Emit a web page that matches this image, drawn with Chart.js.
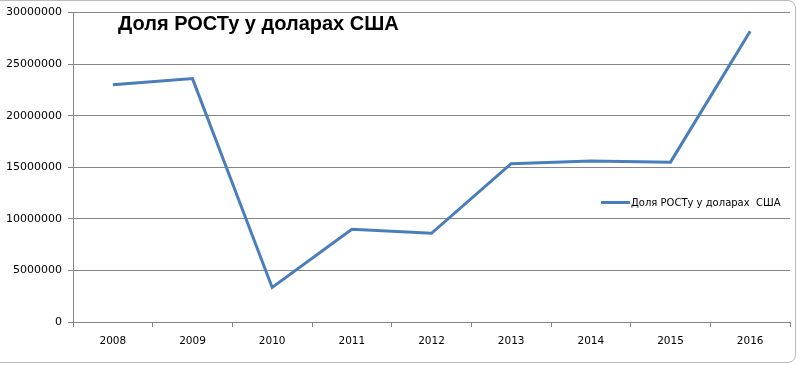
<!DOCTYPE html>
<html>
<head>
<meta charset="utf-8">
<script src="https://cdn.jsdelivr.net/npm/chart.js@4"></script>
<style>
  html, body { margin: 0; padding: 0; background: #fff; }
  #wrap { position: relative; width: 800px; height: 365px; overflow: hidden; }
  #frame { position: absolute; left: -2px; top: 0px; width: 798px; height: 363px;
           border: 1px solid #b8bcc2; border-radius: 0 8px 8px 0; box-sizing: border-box; pointer-events: none; }
  canvas { position: absolute; left: 0; top: 0; }
  #title { position: absolute; left: 118px; top: 12px; font-family: "Liberation Sans", Arial, sans-serif;
           font-weight: bold; font-size: 20px; color: #000; white-space: nowrap; }
  #legend { position: absolute; left: 601px; top: 197px; font-family: "DejaVu Sans", sans-serif;
            font-size: 10px; color: #000; white-space: pre; display: flex; align-items: center; }
  #legend .sw { display: inline-block; width: 29px; height: 3px; background: #4a7ebb; margin-right: 1px; }
</style>
</head>
<body>
<div id="wrap">
  <canvas id="c" width="800" height="365"></canvas>
  <div id="title">Доля РОСТу у доларах США</div>
  <div id="legend"><span class="sw"></span><span id="legtext"></span></div>
  <div id="frame"></div>
</div>
<script>
const seriesName = "Доля РОСТу у доларах  США";
const years = ["2008", "2009", "2010", "2011", "2012", "2013", "2014", "2015", "2016"];
const values = [23000000, 23600000, 3350000, 9000000, 8600000, 15350000, 15600000, 15500000, 28200000];
const yMin = 0;
const yMax = 30000000;
const yStep = 5000000;

document.getElementById('legtext').textContent = seriesName;

new Chart(document.getElementById('c'), {
  type: 'line',
  data: {
    labels: years,
    datasets: [{
      label: seriesName,
      data: values,
      borderColor: '#4a7ebb',
      backgroundColor: '#4a7ebb',
      borderWidth: 3,
      pointRadius: 0,
      tension: 0,
      fill: false
    }]
  },
  options: {
    responsive: false,
    animation: false,
    layout: { padding: { top: 7, right: 10, left: 0, bottom: 0 } },
    plugins: { legend: { display: false }, title: { display: false }, tooltip: { enabled: false } },
    scales: {
      x: {
        offset: true,
        grid: { offset: true, drawOnChartArea: false, drawTicks: true, tickLength: 5, color: '#868686' },
        border: { display: true, color: '#868686', width: 1 },
        ticks: { color: '#000', font: { family: 'DejaVu Sans', size: 10.5 }, padding: 8, maxRotation: 0 },
        afterFit: (s) => { s.height = 43; }
      },
      y: {
        min: yMin, max: yMax,
        grid: { color: '#868686', lineWidth: 1, tickLength: 5 },
        border: { display: true, color: '#868686', width: 1 },
        ticks: { stepSize: yStep, color: '#000', font: { family: 'DejaVu Sans', size: 11 }, padding: 6,
                 callback: (v) => String(v) },
        afterFit: (s) => { s.width = 73; }
      }
    }
  }
});
</script>
</body>
</html>
